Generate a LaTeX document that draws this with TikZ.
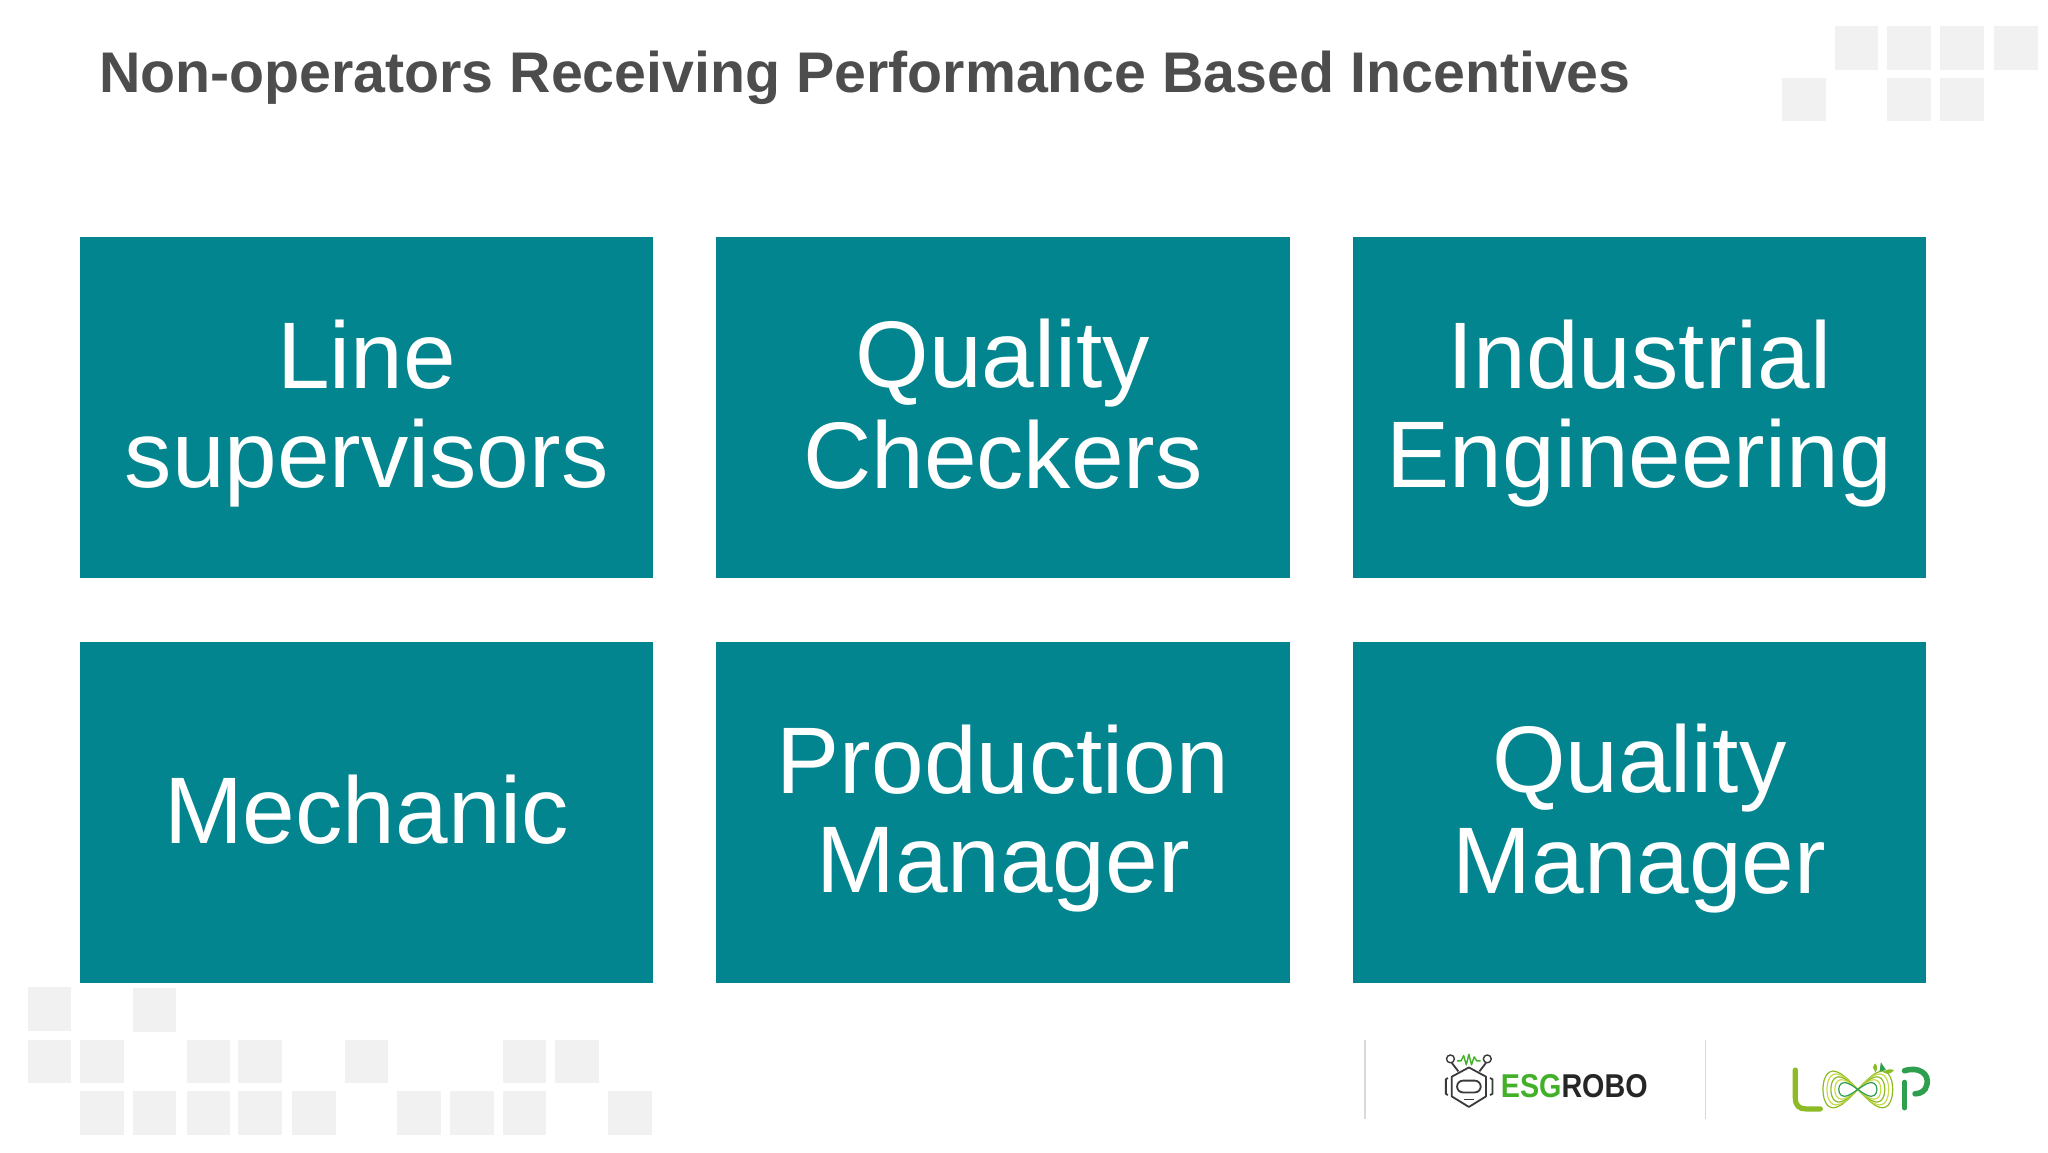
\documentclass[tikz,border=0pt]{standalone}
\usepackage{fontspec}
\setmainfont{Liberation Sans}
\definecolor{teal1}{HTML}{03858F}
\definecolor{sq}{HTML}{F1F1F1}
\definecolor{ttl}{HTML}{4D4D4D}
\definecolor{sep}{HTML}{D9D9D9}
\definecolor{gr1}{HTML}{43B02A}
\definecolor{lpa}{HTML}{8DBB25}
\definecolor{lpb}{HTML}{C9D94A}
\definecolor{lpc}{HTML}{2E9E4F}
\definecolor{robo}{HTML}{3A3A3A}
\tikzset{
  card/.style={fill=teal1,text=white,minimum width=435.5*0.6581pt,minimum height=259*0.6581pt,inner sep=0pt,align=center,font=\fontsize{47.3}{49.5}\selectfont},
  patch/.style={fill=sq,draw=none},
  rule/.style={draw=sep,line width=0.6pt},
  bot/.style={draw=robo,line width=0.9pt,fill=none,line join=round}
}
\newcommand{\sqr}[2]{\fill[patch] (#1,#2) rectangle ++(33,33);}
\newcommand{\ls}{\rule[-9.5pt]{0pt}{49.5pt}}
\begin{document}
\begin{tikzpicture}[x=0.6581pt,y=-0.6581pt]
\useasboundingbox (0,0) rectangle (1556,875.25);
\fill[white] (0,0) rectangle (1556,875.25);
% background patches
\foreach \a/\b in {1394/20,1434/20,1474/20,1515/20,1354/59,1434/59,1474/59,
  21/750,101/751,21/790,61/790,142/790,181/790,262/790,382/790,422/790,
  61/829,101/829,142/829,181/829,222/829,302/829,342/829,382/829,462/829}{\sqr{\a}{\b}}
% title
\node[anchor=base west,inner sep=0pt,text=ttl,font=\fontsize{28.65}{32}\selectfont\bfseries] (title) at (75,70) {Non-operators Receiving Performance Based Incentives};
% cards
\node[card] (c1) at (278.5,309.5) {\ls Line\\\ls supervisors};
\node[card] (c2) at (762,309.5) {\ls Quality\\\ls Checkers};
\node[card] (c3) at (1245.5,309.5) {\ls Industrial\\\ls Engineering};
\node[card] (c4) at (278.5,617.5) {\ls Mechanic};
\node[card] (c5) at (762,617.5) {\ls Production\\\ls Manager};
\node[card] (c6) at (1245.5,617.5) {\ls Quality\\\ls Manager};
% separators
\draw[rule] (1037,790) -- (1037,850);
\draw[rule] (1296,790) -- (1296,850);
% ESGROBO logo
\draw[bot] (1116,811) -- (1129,818) -- (1129,833) -- (1116,841) -- (1103,833) -- (1103,818) -- cycle;
\draw[bot,rounded corners=3pt] (1107,821) rectangle (1125,830);
\draw[bot] (1100,819) -- (1098.5,820) -- (1098.5,831) -- (1100,832);
\draw[bot] (1132,819) -- (1134,820) -- (1134,831) -- (1132,832);
\draw[bot,line width=0.7pt] (1112,835.5) -- (1120,835.5);
\draw[bot] (1108,814) -- (1103,807.5);
\draw[bot] (1124,814) -- (1129,807.5);
\draw[bot,line width=0.7pt] (1102,804.5) circle (3);
\draw[bot,line width=0.7pt] (1130,804.5) circle (3);
\draw[draw=gr1,line width=0.7pt,line join=round] (1107,806) -- (1110,806) -- (1112,802) -- (1114,809) -- (1116,801) -- (1118,809) -- (1120,803) -- (1122,806) -- (1125,806);
\node[anchor=base west,inner sep=0pt,font=\fontsize{16.5}{17}\selectfont\bfseries] (esg) at (1140,834) {\scalebox{0.87}[1]{\textcolor{gr1}{ESG}\textcolor{black!85}{ROBO}}};
% LOOP logo
\draw[draw=lpa,line width=2.6pt,line cap=round] (1364,813) -- (1364,834) .. controls (1364,840) and (1367,842.5) .. (1372,842.5) -- (1383,842.5);
\begin{scope}[line width=0.6pt]
\foreach \s/\h/\c in {26.5/14/lpa,23.5/11.8/lpb,20.5/9.6/lpa,17.5/7.4/lpb,14.5/5.2/lpc}{
  \draw[draw=\c] plot[smooth cycle,domain=0:345,samples=24] ({1411.5+\s*cos(\x)},{827.7+\h*sin(2*\x)});
}
\end{scope}
\draw[draw=lpc,line width=2.2pt,line cap=round] (1447,842) -- (1447,822);
\draw[draw=lpc,line width=2.8pt,line cap=round] (1447,813.5) .. controls (1458,810) and (1466,816) .. (1464,824) .. controls (1463,829) and (1459,831) .. (1455,831);
\fill[lpc] (1429,807) -- (1433,813) -- (1428,814) -- cycle;
\fill[lpa] (1423,811) .. controls (1424,808) and (1425,808) .. (1425,808) .. controls (1427,811) and (1426,813) .. (1425,815) -- cycle;
\fill[lpa] (1431,815) .. controls (1433,812) and (1436,812) .. (1439,813) .. controls (1437,816) and (1434,816) .. (1431,815) -- cycle;
\end{tikzpicture}
\end{document}
